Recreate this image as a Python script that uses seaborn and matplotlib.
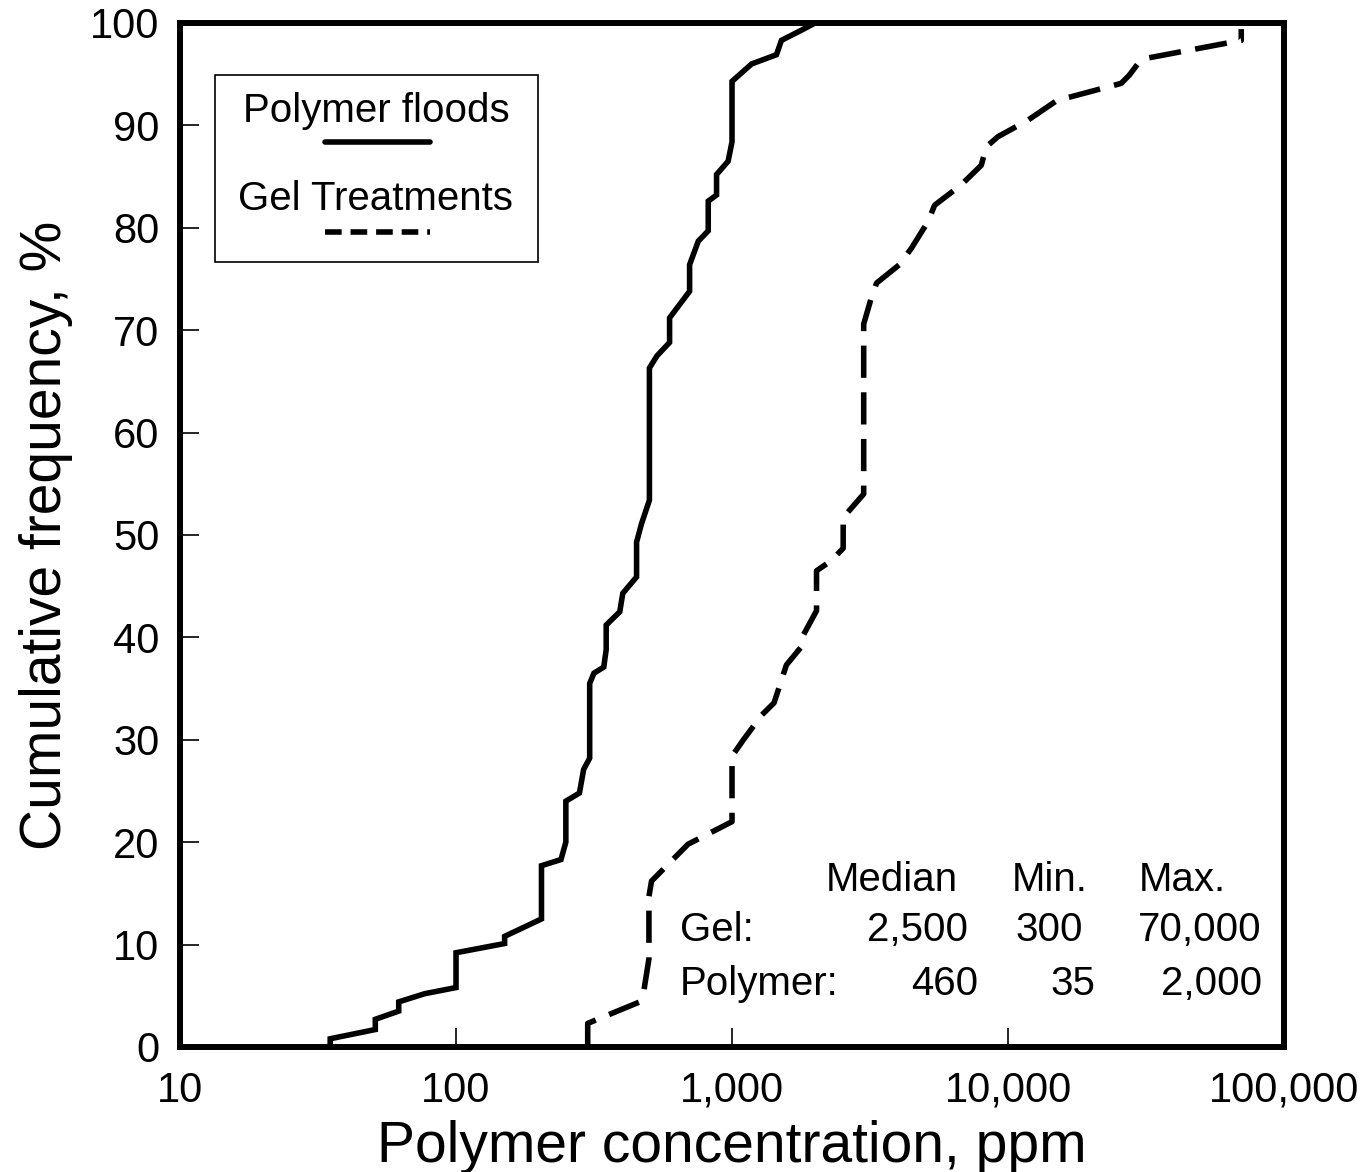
import matplotlib
matplotlib.use("Agg")
import matplotlib.pyplot as plt
import seaborn as sns
import pandas as pd
from matplotlib.lines import Line2D
from matplotlib.patches import Rectangle

# ---------------- data ----------------
polymer_conc = [35, 35, 51, 51, 62, 62, 77, 100, 100, 150, 150, 204, 204, 240, 250, 250,
                280, 290, 305, 305, 316, 343, 350, 350, 392, 402, 451, 451, 470, 502, 502,
                535, 594, 594, 702, 702, 755, 820, 820, 879, 879, 968, 1000, 1000, 1178,
                1449, 1510, 1786, 2000]
polymer_freq = [0, 0.8, 1.7, 2.7, 3.5, 4.4, 5.2, 5.8, 9.2, 10.1, 10.8, 12.5, 17.7, 18.3, 20.0, 24.0,
                24.8, 27.1, 28.2, 35.5, 36.5, 37.1, 38.8, 41.2, 42.5, 44.3, 45.9, 49.3, 51.1, 53.4, 66.3,
                67.5, 68.8, 71.2, 73.8, 76.4, 78.7, 79.7, 82.6, 83.2, 85.2, 86.5, 88.4, 94.3, 96.0,
                96.9, 98.3, 99.3, 100.0]

gel_conc = [300, 300, 463, 480, 500, 500, 511, 693, 1000, 1000, 1100, 1280, 1420, 1574, 1786, 1786,
            2024, 2024, 2291, 2528, 2528, 3000, 3000, 3200, 3340, 4043, 4466, 5130, 5420, 6774,
            8000, 8340, 9200, 11800, 15170, 16950, 25700, 27500, 29900, 31000, 70000, 70000]
gel_freq = [0, 2.3, 4.4, 5.6, 8.6, 14.7, 16.2, 19.8, 22.0, 28.4, 30.0, 32.4, 33.6, 37.3, 39.1, 39.9,
            42.6, 46.5, 47.5, 48.7, 51.7, 54.0, 70.6, 73.2, 74.6, 76.4, 78.0, 80.6, 82.2, 84.2,
            86.1, 87.9, 88.9, 90.5, 92.5, 92.8, 94.1, 94.9, 96.2, 96.5, 98.3, 99.4]

x_ticks = [10, 100, 1000, 10000, 100000]
x_ticklabels = ["10", "100", "1,000", "10,000", "100,000"]
y_ticks = [0, 10, 20, 30, 40, 50, 60, 70, 80, 90, 100]

legend_labels = ["Polymer floods", "Gel Treatments"]
table_header = ["Median", "Min.", "Max."]
table_rows = ["Gel:", "Polymer:"]
table_values = [["2,500", "300", "70,000"], ["460", "35", "2,000"]]

# ---------------- styling ----------------
sns.set_style("white")
plt.rcParams["font.family"] = ["Liberation Sans", "DejaVu Sans"]
plt.rcParams["text.color"] = "black"
plt.rcParams["axes.labelcolor"] = "black"
plt.rcParams["xtick.color"] = "black"
plt.rcParams["ytick.color"] = "black"

fig = plt.figure(figsize=(13.68, 11.72), dpi=100)
ax = fig.add_axes([0.1316, 0.1067, 0.8070, 0.8737])

df_p = pd.DataFrame({"conc": polymer_conc, "freq": polymer_freq})
df_g = pd.DataFrame({"conc": gel_conc, "freq": gel_freq})

sns.lineplot(data=df_p, x="conc", y="freq", ax=ax, sort=False, estimator=None,
             color="black", linewidth=4.0, solid_joinstyle="miter")
sns.lineplot(data=df_g, x="conc", y="freq", ax=ax, sort=False, estimator=None,
             color="black", linewidth=4.0, linestyle=(0, (5.8, 2.6)))

ax.set_xscale("log")
ax.set_xlim(10, 100000)
ax.set_ylim(0, 100)
ax.set_xticks(x_ticks)
ax.set_xticklabels(x_ticklabels)
ax.xaxis.set_minor_locator(matplotlib.ticker.NullLocator())
ax.set_yticks(y_ticks)
ax.set_yticklabels([str(v) for v in y_ticks])

ax.tick_params(axis="both", which="major", direction="in", length=14, width=1.2,
               labelsize=30, colors="black", bottom=True, left=True, top=False, right=False)
ax.tick_params(axis="x", pad=17)
ax.tick_params(axis="y", pad=15)

for s in ax.spines.values():
    s.set_visible(True)
    s.set_linewidth(4.3)
    s.set_color("black")

ax.set_xlabel("Polymer concentration, ppm", fontsize=41, labelpad=7)
ax.set_ylabel("Cumulative frequency, %", fontsize=41, labelpad=12)

# ---------------- custom legend box ----------------
ax.add_patch(Rectangle((0.0317, 0.7666), 0.2926, 0.1824, transform=ax.transAxes,
                       fill=False, edgecolor="black", linewidth=1.2, zorder=5))
ax.text(0.1775, 0.914, legend_labels[0], transform=ax.transAxes, ha="center", va="center",
        fontsize=29)
ax.add_line(Line2D([0.1313, 0.2264], [0.884, 0.884], transform=ax.transAxes,
                   color="black", linewidth=4.0))
ax.text(0.1775, 0.828, legend_labels[1], transform=ax.transAxes, ha="center", va="center",
        fontsize=29)
ax.add_line(Line2D([0.1313, 0.2264], [0.796, 0.796], transform=ax.transAxes,
                   color="black", linewidth=4.0, linestyle=(0, (3.0, 1.6))))

# ---------------- statistics table ----------------
header_x = [0.645, 0.788, 0.9076]
header_y = 0.163
for lab, hx in zip(table_header, header_x):
    ax.text(hx, header_y, lab, transform=ax.transAxes, ha="center", va="center", fontsize=29)

row_y = [0.114, 0.0615]
row_label_x = 0.4529
value_x = [[0.7138, 0.818, 0.980], [0.7228, 0.8288, 0.980]]
for r, (rlab, ry) in enumerate(zip(table_rows, row_y)):
    ax.text(row_label_x, ry, rlab, transform=ax.transAxes, ha="left", va="center", fontsize=29)
    for val, vx in zip(table_values[r], value_x[r]):
        ax.text(vx, ry, val, transform=ax.transAxes, ha="right", va="center", fontsize=29)

fig.savefig("out.png", dpi=100, facecolor="white")
